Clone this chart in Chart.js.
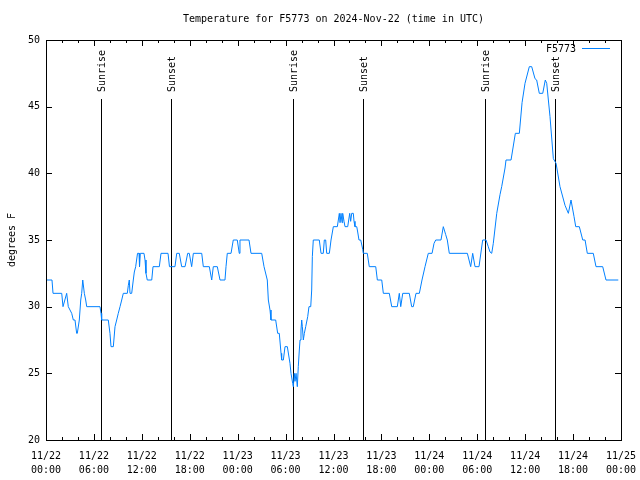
<!DOCTYPE html>
<html>
<head>
<meta charset="utf-8">
<script src="https://cdn.jsdelivr.net/npm/chart.js@4"></script>
<style>
body { margin: 0; background: #fff; }
#wrap { width: 640px; height: 480px; }
</style>
</head>
<body>
<div id="wrap"><canvas id="myChart" width="640" height="480"></canvas></div>
<script>
// hours since 11/22 00:00 UTC, temperature in F
let hours = [0.1, 0.75, 0.88, 1.97, 2.13, 2.59, 2.79, 3.22, 3.42, 3.63, 3.84, 3.92, 4.17, 4.35, 4.47, 4.6, 4.8, 4.97, 5.1,
  6.76, 6.89, 6.97, 7.8, 8.01, 8.14, 8.43, 8.64, 8.85, 9.05, 9.27, 9.48, 9.68, 10.18, 10.31, 10.43, 10.52, 10.73, 10.93,
  11.06, 11.23, 11.46, 11.65, 11.71, 11.81, 12.27, 12.4, 12.52, 12.68, 13.24, 13.4, 14.19, 14.4, 15.28, 15.46, 16.15,
  16.37, 16.69, 16.99, 17.41, 17.74, 17.94, 18.24, 18.45, 19.5, 19.7, 20.45, 20.75, 20.95, 21.45, 21.79, 22.41, 22.54,
  22.7, 23.17, 23.45, 23.95, 24.2, 24.29, 25.42, 25.67, 27.01, 27.3, 27.71, 27.84, 28.05, 28.17, 28.76, 29.01, 29.21,
  29.43, 29.51, 29.72, 29.93, 30.22, 30.55, 30.68, 30.89, 30.97, 31.09, 31.18, 31.31, 31.47, 31.59, 31.72, 31.81, 31.93,
  32.02, 32.1, 32.22, 32.35, 32.52, 32.77, 32.93, 33.15, 33.27, 33.35, 33.47, 34.22, 34.44, 34.72, 34.85, 35.02, 35.15,
  35.48, 35.69, 35.98, 36.48, 36.73, 36.82, 36.94, 37.07, 37.15, 37.32, 37.44, 37.78, 38.03, 38.15, 38.28, 38.48, 38.57,
  38.69, 38.91, 39.03, 39.19, 39.41, 39.66, 39.73, 40.23, 40.48, 41.29, 41.49, 42.04, 42.24, 42.99, 43.29, 43.99, 44.24,
  44.42, 44.67, 45.49, 45.79, 45.99, 46.33, 46.75, 47.08, 47.46, 47.87, 48.34, 48.59, 48.8, 49.46, 49.75, 50.05, 50.25,
  50.5, 52.76, 53.18, 53.43, 53.72, 54.22, 54.68, 55.1, 55.38, 55.6, 55.81, 56.01, 56.44, 56.85, 57.06, 57.48, 57.6,
  58.23, 58.77, 59.27, 59.61, 59.98, 60.52, 60.82, 61.23, 61.44, 61.77, 62.2, 62.52, 62.7, 63.11, 63.53, 63.87, 64.36,
  64.99, 65.41, 65.74, 66.12, 66.33, 66.78, 67.21, 67.5, 67.78, 68.53, 68.87, 69.71, 70.12, 71.66];
let temps = [32, 32, 31, 31, 30, 31, 30, 29.5, 29, 29, 28, 28, 29, 30.5, 31, 32, 31, 30.5, 30,
  30, 29.5, 29, 29, 28, 27, 27, 28.5, 29, 29.5, 30, 30.5, 31, 31, 31.6, 32, 31, 31, 32,
  32.6, 33, 34, 34, 33, 34, 34, 33.5, 32.5, 32, 32, 33, 33, 34, 34, 33, 33,
  34, 34, 33, 33, 34, 34, 33, 34, 34, 33, 33, 32, 33, 33, 32, 32, 33,
  34, 34, 35, 35, 34, 35, 35, 34, 34, 33, 32, 30.5, 29.75, 29, 29, 28, 28,
  26.5, 26, 26, 27, 27, 25.75, 25, 24.25, 24, 25, 24.4, 25, 24, 25.5, 26.75, 27.5, 28.25,
  29, 28.5, 27.5, 28, 28.5, 29.25, 30, 30, 31.25, 33.75, 35, 35, 34, 34, 35, 35, 34,
  34, 35, 36, 36, 37, 36.3, 37, 36.3, 37, 36.4, 36, 36, 37, 36.4, 37, 37, 36.4,
  36, 36, 35.6, 35, 35, 34.3, 34, 34, 33, 33, 32, 32, 31, 31, 30, 30, 31,
  30, 31, 31, 30, 30, 31, 31, 32, 33, 34, 34, 34.75, 35, 35, 36, 35.4, 35,
  34, 34, 33, 34, 33, 33, 35, 35, 34.5, 34.1, 34, 34.75, 37, 38.4, 39, 40.4, 41,
  41, 43, 43, 45.3, 46.75, 48, 48, 47.1, 47, 46, 46, 47, 46.75, 44.25, 41.1, 40.75, 39,
  37.6, 37, 38, 36.75, 36, 36, 35, 35, 34, 34, 33, 33, 32, 32];

let tickDates = ['11/22', '11/22', '11/22', '11/22', '11/23', '11/23', '11/23', '11/23', '11/24', '11/24', '11/24', '11/24', '11/25'];
let tickTimes = ['00:00', '06:00', '12:00', '18:00', '00:00', '06:00', '12:00', '18:00', '00:00', '06:00', '12:00', '18:00', '00:00'];

let sunTimes = [6.9, 15.65, 30.93, 39.69, 54.97, 63.74];
let sunLabels = ['Sunrise', 'Sunset', 'Sunrise', 'Sunset', 'Sunrise', 'Sunset'];
let sunLineTop = 45.6;

let fontName = '"DejaVu Sans Mono", monospace';
let lineColor = 'rgb(0,128,255)';

let points = [];
for (let i = 0; i < hours.length; i++) {
  points.push({ x: hours[i], y: temps[i] });
}

let extras = {
  id: 'extras',
  beforeDatasetsDraw(chart) {
    let ctx = chart.ctx;
    let a = chart.chartArea;
    let xs = chart.scales.x, ys = chart.scales.y;
    ctx.save();
    ctx.strokeStyle = '#000';
    ctx.fillStyle = '#000';
    ctx.lineWidth = 1;
    ctx.font = '10px ' + fontName;
    let top = Math.round(ys.getPixelForValue(sunLineTop));
    for (let i = 0; i < sunTimes.length; i++) {
      let px = Math.round(xs.getPixelForValue(sunTimes[i])) + 0.5;
      ctx.beginPath();
      ctx.moveTo(px, a.bottom);
      ctx.lineTo(px, top);
      ctx.stroke();
      ctx.save();
      ctx.translate(px + 1, top - 7);
      ctx.rotate(-Math.PI / 2);
      ctx.textAlign = 'left';
      ctx.textBaseline = 'middle';
      ctx.fillText(sunLabels[i], 0, 0);
      ctx.restore();
    }
    ctx.restore();
  },
  afterDatasetsDraw(chart) {
    let ctx = chart.ctx;
    let a = chart.chartArea;
    let xs = chart.scales.x, ys = chart.scales.y;
    ctx.save();
    ctx.strokeStyle = '#000';
    ctx.fillStyle = '#000';
    ctx.lineWidth = 1;
    ctx.strokeRect(a.left + 0.5, a.top + 0.5, a.right - a.left, a.bottom - a.top);

    // inward ticks
    ctx.beginPath();
    ys.ticks.forEach(function (t) {
      let py = Math.round(ys.getPixelForValue(t.value)) + 0.5;
      ctx.moveTo(a.left, py); ctx.lineTo(a.left + 6, py);
      ctx.moveTo(a.right, py); ctx.lineTo(a.right - 6, py);
    });
    for (let h = 0; h <= 72; h += 2) {
      let len = (h % 6 === 0) ? 6 : 3;
      let px = Math.round(xs.getPixelForValue(h)) + 0.5;
      ctx.moveTo(px, a.bottom); ctx.lineTo(px, a.bottom - len);
      ctx.moveTo(px, a.top); ctx.lineTo(px, a.top + len);
    }
    ctx.stroke();

    ctx.font = '10px ' + fontName;
    // title
    ctx.textAlign = 'center';
    ctx.textBaseline = 'middle';
    ctx.fillText('Temperature for F5773 on 2024-Nov-22 (time in UTC)', (a.left + a.right) / 2, 19);

    // y axis title
    ctx.save();
    ctx.translate(12, (a.top + a.bottom) / 2);
    ctx.rotate(-Math.PI / 2);
    ctx.fillText('degrees F', 0, 0);
    ctx.restore();

    // legend
    ctx.textAlign = 'right';
    ctx.fillText('F5773', 576, 49);
    ctx.strokeStyle = lineColor;
    ctx.beginPath();
    ctx.moveTo(582, 48.5);
    ctx.lineTo(610, 48.5);
    ctx.stroke();
    ctx.restore();
  }
};

let myChart = document.getElementById('myChart').getContext('2d');
let chart = new Chart(myChart, {
  type: 'line',
  data: {
    datasets: [{
      label: 'F5773',
      data: points,
      borderColor: lineColor,
      borderWidth: 1,
      pointRadius: 0,
      tension: 0,
      fill: false
    }]
  },
  options: {
    responsive: false,
    animation: false,
    events: [],
    layout: { padding: { left: 0, right: 19, top: 40, bottom: 0 } },
    plugins: {
      legend: { display: false },
      tooltip: { enabled: false },
      title: { display: false }
    },
    scales: {
      x: {
        type: 'linear',
        min: 0,
        max: 72,
        grid: { display: false, drawTicks: false },
        border: { display: false },
        ticks: {
          stepSize: 6,
          autoSkip: false,
          maxRotation: 0,
          padding: 9,
          color: '#000',
          font: { family: fontName, size: 10, lineHeight: 1.4 },
          callback: function (value, index) {
            return [tickDates[index], tickTimes[index]];
          }
        },
        afterFit: function (scale) {
          scale.height = 40;
          scale.paddingLeft = 0;
          scale.paddingRight = 0;
        }
      },
      y: {
        min: 20,
        max: 50,
        grid: { display: false, drawTicks: false },
        border: { display: false },
        ticks: {
          stepSize: 5,
          padding: 6,
          color: '#000',
          font: { family: fontName, size: 10 }
        },
        afterFit: function (scale) {
          scale.width = 46;
          scale.paddingTop = 0;
          scale.paddingBottom = 0;
        }
      }
    }
  },
  plugins: [extras]
});
</script>
</body>
</html>
